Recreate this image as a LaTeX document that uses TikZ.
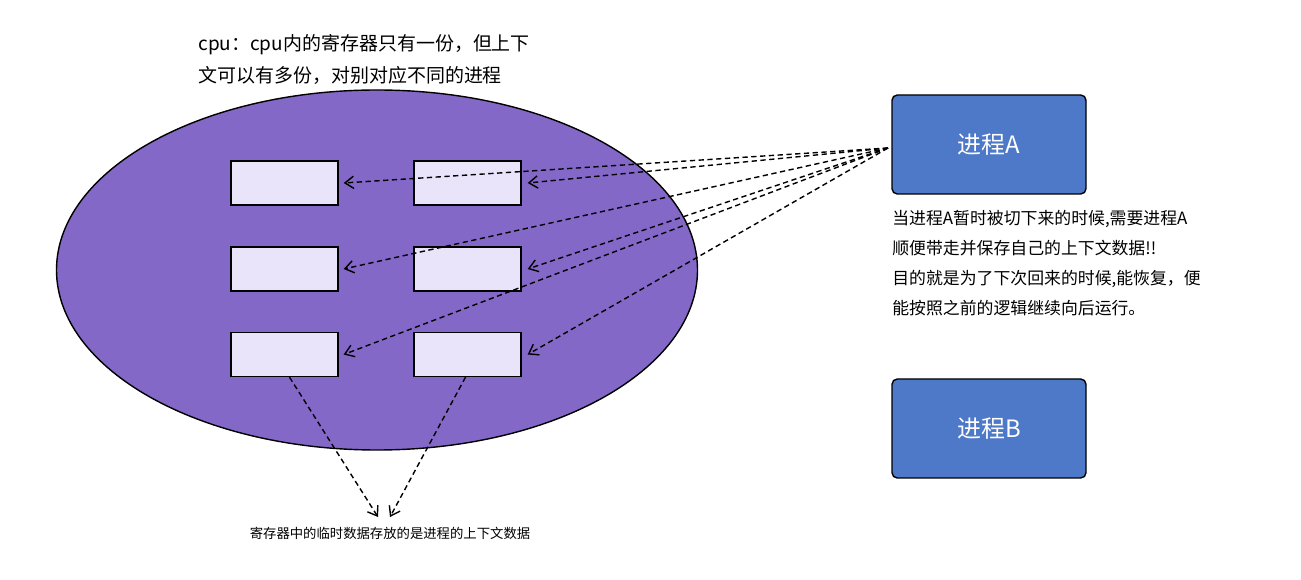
\documentclass[tikz,border=0pt]{standalone}
\usepackage{fontspec}
\setmainfont{Noto Sans CJK SC}
\usetikzlibrary{arrows.meta,shapes.geometric}
\definecolor{ell}{HTML}{8468C8}
\definecolor{sbox}{HTML}{EAE4FB}
\definecolor{pbox}{HTML}{4E78C8}
\tikzset{
 small/.style={draw=black,thick,fill=sbox,minimum width=107*0.02cm,minimum height=44*0.02cm,inner sep=0},
 proc/.style={draw=black,thick,fill=pbox,rounded corners=3pt,minimum width=194*0.02cm,minimum height=99*0.02cm,text=white,font=\fontsize{13.6}{16}\selectfont},
 dl2/.style={densely dashed,thick,-{Straight Barb[length=5pt,width=7pt]}}
}
\begin{document}
\begin{tikzpicture}[x={(0.02cm,0)},y={(0,-0.02cm)}]
\useasboundingbox[fill=white] (0,0) rectangle (1301,580);
\node[draw=black,thick,fill=ell,ellipse,minimum width=641*0.02cm,minimum height=360*0.02cm,inner sep=0] (cpu) at (377,270) {};
\node[small] (l1) at (284.5,183) {};
\node[small] (l2) at (284.5,269) {};
\node[small] (l3) at (284.5,354.5) {};
\node[small] (r1) at (467.5,183) {};
\node[small] (r2) at (467.5,269) {};
\node[small] (r3) at (467.5,354.5) {};
\node[proc] (A) at (989,144.5) {进程A};
\node[proc] (B) at (989,428.5) {进程B};
\coordinate (a) at (888,148);
\foreach \t in {r1,r2,r3}{\draw[dl2] (a) -- ([xshift=6*0.02cm]\t.east);}
\foreach \t in {l1,l2,l3}{\draw[dl2] (a) -- ([xshift=5*0.02cm]\t.east);}
\coordinate (p) at (384,517);
\draw[dl2] ([xshift=5*0.02cm]l3.south) -- ([xshift=-6*0.02cm]p);
\draw[dl2] ([xshift=-2*0.02cm]r3.south) -- ([xshift=6*0.02cm]p);
\node[anchor=north,font=\fontsize{7.6}{9}\selectfont] (lab) at (390,521) {寄存器中的临时数据存放的是进程的上下文数据};
\node[anchor=north west,align=left,inner sep=0,font=\fontsize{10.8}{18.5}\selectfont] (top) at (198,34) {cpu：cpu内的寄存器只有一份，但上下\\文可以有多份，对别对应不同的进程};
\node[anchor=north west,align=left,inner sep=0,font=\fontsize{9.6}{17}\selectfont] (desc) at (892,210) {当进程A暂时被切下来的时候,需要进程A\\顺便带走并保存自己的上下文数据!!\\目的就是为了下次回来的时候,能恢复，便\\能按照之前的逻辑继续向后运行。};
\end{tikzpicture}
\end{document}
